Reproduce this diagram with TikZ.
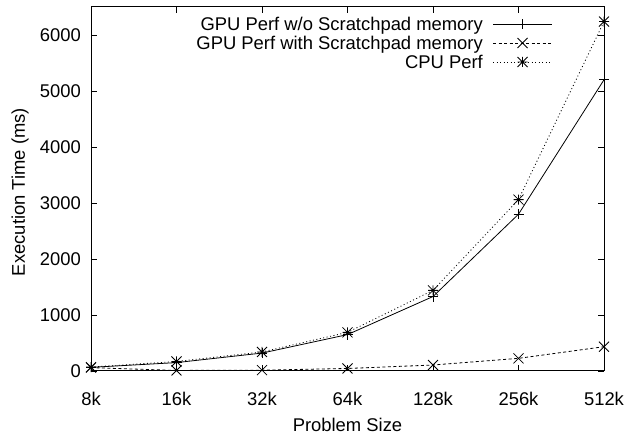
\documentclass[tikz,border=0pt]{standalone}
\usepackage{fontspec}
\setmainfont{Liberation Sans}
\usetikzlibrary{positioning}

\begin{document}
\begin{tikzpicture}[x=1pt,y=1pt,font=\fontsize{18.4}{22}\selectfont]
\tikzstyle{every node} = [inner sep=0pt]
\tikzstyle{frame} = [line width=1pt]
\tikzstyle{tick} = [line width=0.8pt]
\tikzstyle{gpu} = [line width=0.8pt]
\tikzstyle{spad} = [line width=0.8pt, dash pattern=on 3pt off 2.5pt]
\tikzstyle{cpu} = [line width=0.8pt, dash pattern=on 1pt off 2.5pt]
\tikzstyle{pmark} = [line width=0.8pt, solid]
\useasboundingbox (0,0) rectangle (624,434);
% axes box
\draw[frame] (91,63) rectangle (604,427);
\foreach \v in {0,1000,...,6000}{
  \draw[tick] (91,63+0.056*\v) -- ++(6,0);
  \draw[tick] (604,63+0.056*\v) -- ++(-6,0);
  \node[anchor=base east] (ylab\v) at (81,56.4+0.056*\v) {\v};
}
\foreach \lab [count=\i from 0] in {8k,16k,32k,64k,128k,256k,512k}{
  \draw[tick] (91+85.5*\i,63) -- ++(0,6);
  \draw[tick] (91+85.5*\i,427) -- ++(0,-6);
  \node[anchor=base] (xlab\i) at (91+85.5*\i,29) {\lab};
}
\node[anchor=base] (xtitle) at (347.5,2.5) {Problem Size};
\node[rotate=90] (ytitle) at (20,242) {Execution Time (ms)};

% data
\begin{scope}[shift={(91,63)},x=85.5pt,y=0.056pt]
\foreach \v [count=\i from 0] in {65,150,320,650,1330,2800,5200}
  \coordinate (g\i) at (\i,\v);
\foreach \v [count=\i from 0] in {60,10,15,45,107,226,434}
  \coordinate (s\i) at (\i,\v);
\foreach \v [count=\i from 0] in {70,170,340,690,1440,3060,6240}
  \coordinate (c\i) at (\i,\v);
\draw[gpu] (g0) \foreach \i in {1,...,6}{ -- (g\i)};
\draw[spad] (s0) \foreach \i in {1,...,6}{ -- (s\i)};
\draw[cpu] (c0) \foreach \i in {1,...,6}{ -- (c\i)};
\foreach \i in {0,...,6}{
  \draw[pmark] (g\i) +(-5pt,0pt) -- +(5pt,0pt) (g\i) +(0pt,-5pt) -- +(0pt,5pt);
  \draw[pmark] (s\i) +(-5pt,-5pt) -- +(5pt,5pt) (s\i) +(-5pt,5pt) -- +(5pt,-5pt);
  \draw[pmark] (c\i) +(-5pt,0pt) -- +(5pt,0pt) (c\i) +(0pt,-5pt) -- +(0pt,5pt)
               (c\i) +(-5pt,-5pt) -- +(5pt,5pt) (c\i) +(-5pt,5pt) -- +(5pt,-5pt);
}
\end{scope}

% key
\node[anchor=base east] (keyg) at (483,403.4) {GPU Perf w/o Scratchpad memory};
\node[anchor=base east] (keys) at (483,384.4) {GPU Perf with Scratchpad memory};
\node[anchor=base east] (keyc) at (483,365.4) {CPU Perf};
\coordinate (kg0) at (493,410); \coordinate (kg1) at (552,410); \coordinate (kgm) at (522.5,410);
\coordinate (ks0) at (493,391); \coordinate (ks1) at (552,391); \coordinate (ksm) at (522.5,391);
\coordinate (kc0) at (493,372); \coordinate (kc1) at (552,372); \coordinate (kcm) at (522.5,372);
\draw[gpu] (kg0) -- (kg1);
\draw[spad] (ks0) -- (ks1);
\draw[cpu] (kc0) -- (kc1);
\draw[pmark] (kgm) +(-5,0) -- +(5,0) (kgm) +(0,-5) -- +(0,5);
\draw[pmark] (ksm) +(-5,-5) -- +(5,5) (ksm) +(-5,5) -- +(5,-5);
\draw[pmark] (kcm) +(-5,0) -- +(5,0) (kcm) +(0,-5) -- +(0,5)
             (kcm) +(-5,-5) -- +(5,5) (kcm) +(-5,5) -- +(5,-5);
\end{tikzpicture}
\end{document}
